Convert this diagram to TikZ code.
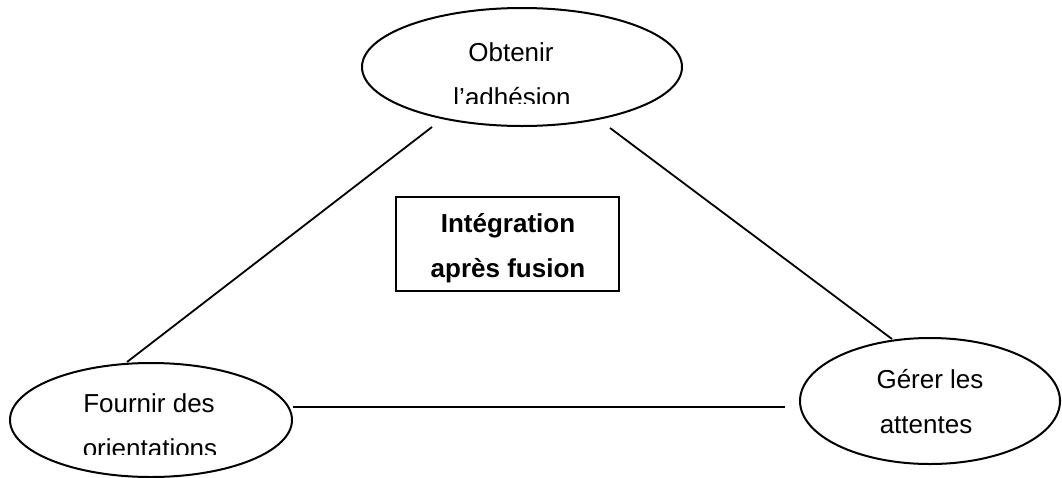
\documentclass[tikz,border=0pt]{standalone}
\usepackage{fontspec}
\setmainfont{Liberation Sans}
\usetikzlibrary{shapes.geometric}
\begin{document}
\begin{tikzpicture}[x=1pt,y=-1pt,
  ell/.style={draw,ellipse,line width=2pt,inner sep=0pt},
  lbl/.style={anchor=base,inner sep=0pt,font=\fontsize{26}{26}\selectfont},
  blbl/.style={anchor=base,inner sep=0pt,font=\fontsize{26}{26}\selectfont\bfseries},
  conn/.style={line width=1.8pt}]
\useasboundingbox (0,0) rectangle (1062,477);
\fill[white] (0,0) rectangle (1062,477);
% ellipses
\node[ell,minimum width=320pt,minimum height=118pt] (top) at (522,67) {};
\node[ell,minimum width=282pt,minimum height=114pt] (left) at (151,420) {};
\node[ell,minimum width=260pt,minimum height=126pt] (right) at (930,401) {};
% box
\node[draw,line width=2.2pt,minimum width=223pt,minimum height=94pt,inner sep=0pt] (box) at (507.5,244) {};
% texts
\node[lbl] (t1) at (511,61) {Obtenir};
\begin{scope}
\clip (380,70) rectangle (680,103);
\node[lbl] (t2) at (512,106) {l’adhésion};
\end{scope}
\node[lbl] (l1) at (149,412) {Fournir des};
\begin{scope}
\clip (20,420) rectangle (280,454);
\node[lbl] (l2) at (150,457) {orientations};
\end{scope}
\node[lbl] (r1) at (930,388) {Gérer les};
\node[lbl] (r2) at (926,433) {attentes};
\node[blbl] (b1) at (508,232) {Intégration};
\node[blbl] (b2) at (508,277) {après fusion};
% connector end points
\coordinate (topL) at (432,127);
\coordinate (topR) at (610,128);
\coordinate (leftT) at (127,362);
\coordinate (leftR) at (293,407);
\coordinate (rightT) at (892,339);
\coordinate (rightL) at (785,407);
\draw[conn] (topL) -- (leftT);
\draw[conn] (topR) -- (rightT);
\draw[conn] (leftR) -- (rightL);
\end{tikzpicture}
\end{document}
